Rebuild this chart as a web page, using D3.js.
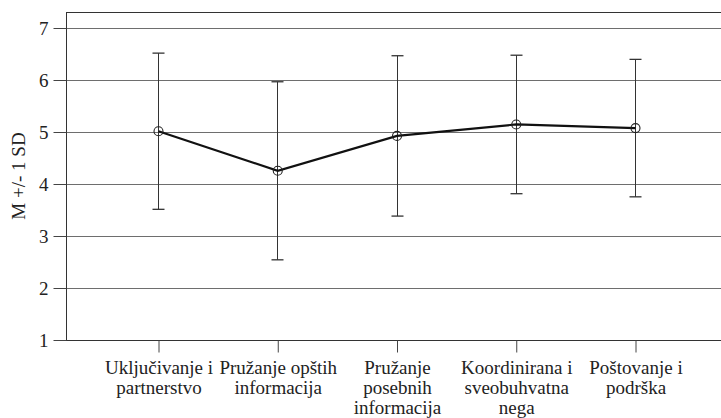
<!DOCTYPE html>
<html><head><meta charset="utf-8">
<script src="https://cdn.jsdelivr.net/npm/d3@7"></script>
<style>
body{margin:0;background:#fff;}
text{font-family:"Liberation Serif","Times New Roman",serif;fill:#222;}
</style></head><body>
<svg id="c" width="721" height="418"></svg>
<script>
const categories = [
  ["Uključivanje i","partnerstvo"],
  ["Pružanje opštih","informacija"],
  ["Pružanje","posebnih","informacija"],
  ["Koordinirana i","sveobuhvatna","nega"],
  ["Poštovanje i","podrška"]
];
const means = [5.01, 4.25, 4.92, 5.14, 5.07];
const sds   = [1.50, 1.71, 1.54, 1.33, 1.32];
const yTicks = [1,2,3,4,5,6,7];
const yTitle = "M +/- 1 SD";

(function(){
const svg = d3.select("#c");
const pLeft = 66, pTop = 12, pBottom = 340, pRight = 721;
const x = d3.scalePoint().domain(d3.range(categories.length)).range([158, 635]);
const y = d3.scaleLinear().domain([1, 7.3]).range([pBottom, pTop]);

// gridlines
svg.append("g").selectAll("line").data(yTicks.filter(d=>d>1)).join("line")
  .attr("x1", pLeft).attr("x2", pRight)
  .attr("y1", d=>Math.round(y(d))+0.5).attr("y2", d=>Math.round(y(d))+0.5)
  .attr("stroke", "#6e6e6e").attr("stroke-width", 1);

// frame
svg.append("line").attr("x1", pLeft).attr("x2", pRight).attr("y1", pTop+0.5).attr("y2", pTop+0.5).attr("stroke","#333");
svg.append("line").attr("x1", pLeft+0.5).attr("x2", pLeft+0.5).attr("y1", pTop).attr("y2", pBottom+1).attr("stroke","#333");
svg.append("line").attr("x1", pLeft).attr("x2", pRight).attr("y1", pBottom+0.5).attr("y2", pBottom+0.5).attr("stroke","#333");

// y axis
const ya = d3.axisLeft(y).tickValues(yTicks).tickSize(13).tickPadding(5).tickFormat(d3.format("d"));
const gy = svg.append("g").attr("transform", `translate(${pLeft+0.5},0.5)`).call(ya);
gy.select(".domain").remove();
gy.selectAll(".tick line").attr("stroke","#444");
gy.selectAll(".tick text").attr("font-size", 19).attr("font-family","Liberation Serif").attr("fill","#333");
gy.selectAll(".tick").attr("transform", d=>`translate(0,${Math.round(y(d))})`);

// x axis
const xa = d3.axisBottom(x).tickSize(12).tickFormat("");
const gx = svg.append("g").attr("transform", `translate(0.5,${pBottom+0.5})`).call(xa);
gx.select(".domain").remove();
gx.selectAll(".tick line").attr("stroke","#444");
gx.selectAll(".tick").each(function(d){
  const t = d3.select(this).append("text").attr("text-anchor","middle")
    .attr("font-size", 19).attr("fill","#222");
  categories[d].forEach((ln,i)=>{
    t.append("tspan").attr("x",0).attr("y", 33 + i*20).text(ln);
  });
});

// y title
svg.append("text").attr("transform", `translate(25,176) rotate(-90)`)
  .attr("text-anchor","middle").attr("font-size", 19).attr("fill","#222").text(yTitle);

// error bars
const eb = svg.append("g");
means.forEach((m,i)=>{
  const cx = Math.round(x(i))+0.5;
  const hi = y(m+sds[i]), lo = y(m-sds[i]);
  eb.append("line").attr("x1",cx).attr("x2",cx).attr("y1",hi).attr("y2",lo).attr("stroke","#333").attr("stroke-width",1);
  [hi,lo].forEach(v=>eb.append("line").attr("x1",cx-6).attr("x2",cx+6).attr("y1",v).attr("y2",v).attr("stroke","#333").attr("stroke-width",1.3));
});

// mean line
svg.append("path").datum(means)
  .attr("d", d3.line().x((d,i)=>x(i)+0.5).y(d=>y(d)))
  .attr("fill","none").attr("stroke","#111").attr("stroke-width",2.2);

// circles
svg.append("g").selectAll("circle").data(means).join("circle")
  .attr("cx",(d,i)=>x(i)+0.5).attr("cy",d=>y(d)).attr("r",4.5)
  .attr("fill","none").attr("stroke","#222").attr("stroke-width",1.1);
})();
</script></body></html>
